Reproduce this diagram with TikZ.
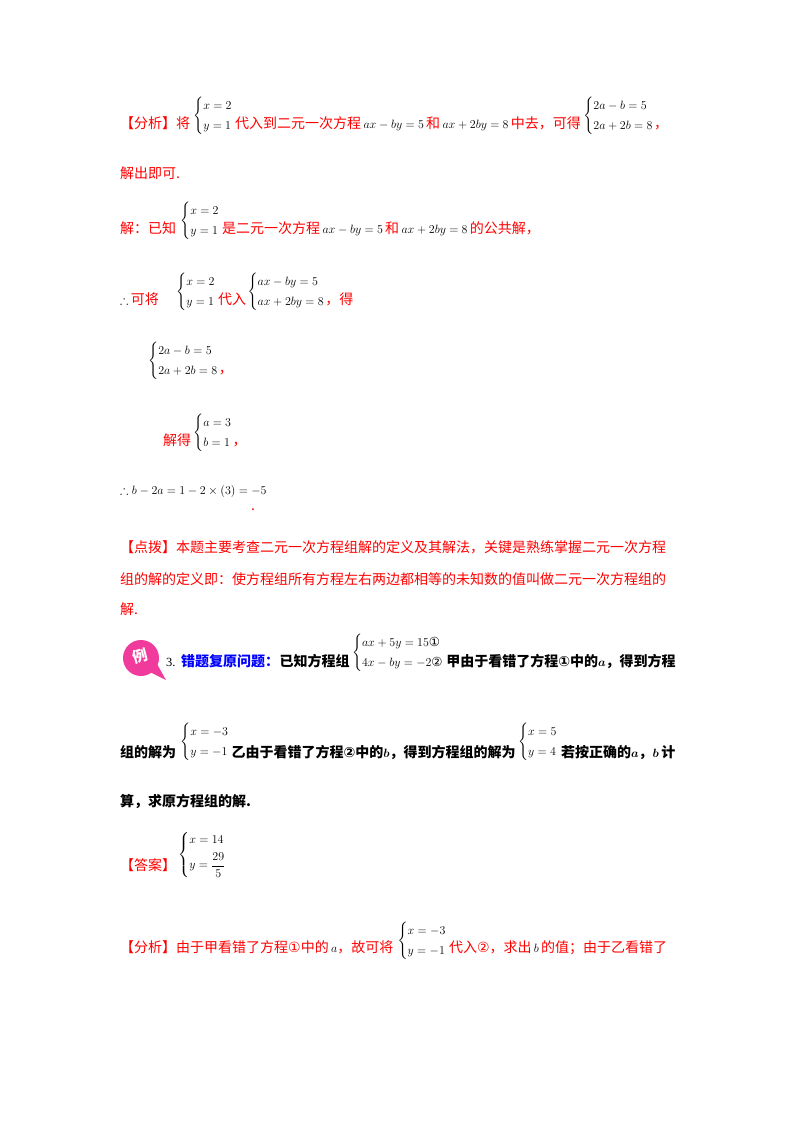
\documentclass[tikz,border=0pt]{standalone}
\usepackage{amsmath,amssymb}
\usepackage{fontspec}
\setmainfont{Liberation Serif}
\newfontfamily\cjk{Noto Sans CJK SC}
\newfontfamily\dv{DejaVu Sans}
\newcommand\ci[1]{{\dv #1}}
\newcommand\mb[1]{\textcolor{black}{\fontsize{12.5}{15}\selectfont$#1$}}
\newcommand\sysb[2]{$\left\{\begin{array}{@{}l@{}}#1\\[5pt]#2\end{array}\right.$}
\begin{document}
\begin{tikzpicture}[x=1pt,y=-1pt,
 t/.style={anchor=base west,inner sep=0,font=\cjk\fontsize{14}{17}\selectfont,text=red},
 k/.style={anchor=base west,inner sep=0,font=\cjk\bfseries\fontsize{14}{17}\selectfont,text=black},
 s/.style={anchor=west,inner sep=0,font=\fontsize{12.5}{15}\selectfont,text=black}]
\useasboundingbox (0,0) rectangle (800,1132);
% line 1
\node[t] (a1) at (120,128) {【分析】将};
\node[s] (a2) at (193,116) {\sysb{x=2}{y=1}};
\node[t] (a3) at ([xshift=2pt]a2.east |- a1.base) {代入到二元一次方程\,\mb{ax-by=5}\,和\,\mb{ax+2by=8}\,中去，可得};
\node[s] (a4) at ([xshift=2pt]a3.east |- 0,116) {\sysb{2a-b=5}{2a+2b=8}};
\node[t] (a5) at (a4.east |- a1.base) {，};
\node[t] (b1) at (120,178) {解出即可.};
% line 3
\node[t] (c1) at (120,233) {解：已知};
\node[s] (c2) at (180,221) {\sysb{x=2}{y=1}};
\node[t] (c3) at ([xshift=2pt]c2.east |- c1.base) {是二元一次方程\,\mb{ax-by=5}\,和\,\mb{ax+2by=8}\,的公共解，};
% line 4
\node[t] (d1) at (120,304) {\mb{\therefore}\,可将};
\node[s] (d2) at (176,292) {\sysb{x=2}{y=1}};
\node[t] (d3) at ([xshift=2pt]d2.east |- d1.base) {代入};
\node[s] (d4) at ([xshift=1pt]d3.east |- 0,292) {\sysb{ax-by=5}{ax+2by=8}};
\node[t] (d5) at (d4.east |- d1.base) {，得};
% line 5
\node[s] (e1) at (148,361) {\sysb{2a-b=5}{2a+2b=8}};
\node[t] (e2) at (e1.east |- 0,373) {，};
% line 6
\node[t] (f1) at (163,445) {解得};
\node[s] (f2) at (193,433) {\sysb{a=3}{b=1}};
\node[t] (f3) at (f2.east |- f1.base) {，};
% line 7
\node[s,anchor=base west] (g1) at (120,494) {$\therefore b-2a=1-2\times(3)=-5$};
\node[t] (g2) at (251,510) {.};
% 点拨
\node[t] (h1) at (120,552) {【点拨】本题主要考查二元一次方程组解的定义及其解法，关键是熟练掌握二元一次方程};
\node[t] (h2) at (120,584) {组的解的定义即：使方程组所有方程左右两边都相等的未知数的值叫做二元一次方程组的};
\node[t] (h3) at (120,614) {解.};
% example 3
\fill[magenta!70!pink] (141,658) circle (18);
\fill[magenta!70!pink] (150,672) -- (166,680) -- (157,664) -- cycle;
\node[inner sep=0,font=\cjk\bfseries\fontsize{15}{17}\selectfont,text=white,rotate=15] (ic) at (140,656) {例};
\node[s,anchor=base west] (i0) at (166,666) {3.};
\node[k,text=blue] (i1) at (181,666) {错题复原问题：};
\node[k] (i2) at (i1.base east) {已知方程组};
\node[s] (i3) at ([xshift=2pt]i2.east |- 0,653) {\sysb{ax+5y=15\text{\ci{①}}}{4x-by=-2\text{\ci{②}}}};
\node[k] (i4) at ([xshift=2pt]i3.east |- i1.base) {甲由于看错了方程\ci{①}中的\mb{\boldsymbol a}，得到方程};
% line 10
\node[k] (j1) at (120,757) {组的解为};
\node[s] (j2) at (180,742) {\sysb{x=-3}{y=-1}};
\node[k] (j3) at ([xshift=2pt]j2.east |- j1.base) {乙由于看错了方程\ci{②}中的\mb{\boldsymbol b}，得到方程组的解为};
\node[s] (j4) at ([xshift=2pt]j3.east |- 0,742) {\sysb{x=5}{y=4}};
\node[k] (j5) at ([xshift=3pt]j4.east |- j1.base) {若按正确的\mb{\boldsymbol a}，\mb{\boldsymbol b}\,计};
\node[k] (k1) at (120,806) {算，求原方程组的解.};
% answer
\node[t] (l1) at (120,870) {【答案】};
\node[s] (l2) at (178,855) {\sysb{x=14}{y=\dfrac{29}{5}}};
% last
\node[t] (m1) at (120,952) {【分析】由于甲看错了方程\ci{①}中的\,\mb{a}，故可将};
\node[s] (m2) at ([xshift=4pt]m1.east |- 0,941) {\sysb{x=-3}{y=-1}};
\node[t] (m3) at ([xshift=2pt]m2.east |- m1.base) {代入\ci{②}，求出\,\mb{b}\,的值；由于乙看错了};
\end{tikzpicture}
\end{document}
